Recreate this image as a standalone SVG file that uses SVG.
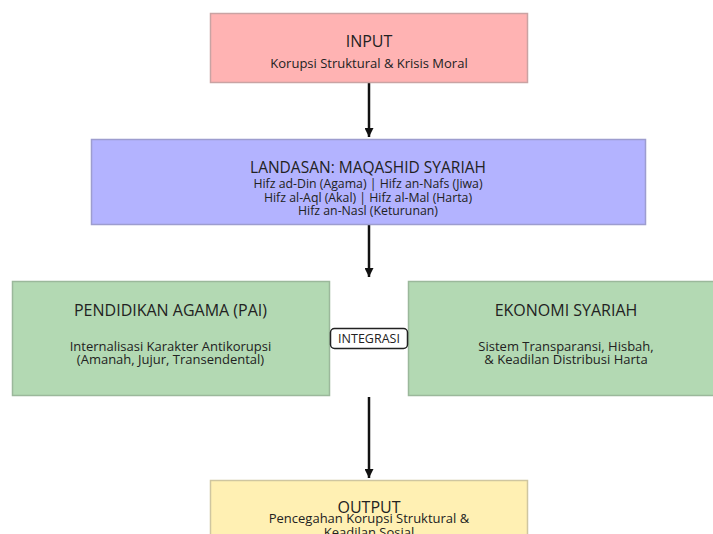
<svg xmlns="http://www.w3.org/2000/svg" width="713" height="534" viewBox="0 0 713 534">
<style>
  .box { stroke-width: 1.5; }
  .t { font-family: "Open Sans", Roboto, "Liberation Sans", sans-serif; fill: #222; text-anchor: middle; }
  .h { font-size: 16px; }
  .h2 { font-size: 15.5px; }
  .s { font-size: 13px; }
  .s2 { font-size: 12.3px; }
  .conn { stroke: #111; stroke-width: 2.5; fill: none; }
</style>
<defs>
  <marker id="ah" viewBox="0 0 10 10" refX="10" refY="5" markerWidth="3.6" markerHeight="3.6" orient="auto" markerUnits="strokeWidth">
    <path d="M0,0 L10,5 L0,10 z" fill="#111"/>
  </marker>
</defs>
<rect width="713" height="534" fill="#fff"/>

<g id="connectors">
  <line class="conn" x1="369" y1="83" x2="369" y2="137" marker-end="url(#ah)"/>
  <line class="conn" x1="369" y1="225" x2="369" y2="277" marker-end="url(#ah)"/>
  <line class="conn" x1="369" y1="397" x2="369" y2="478" marker-end="url(#ah)"/>
</g>

<g id="input">
  <rect class="box" x="210.5" y="13.5" width="317" height="69" fill="#ffb3b3" stroke="#c9a3a3"/>
  <text class="t h" x="369" y="47">INPUT</text>
  <text class="t s" x="369" y="68">Korupsi Struktural &amp; Krisis Moral</text>
</g>

<g id="landasan">
  <rect class="box" x="91.5" y="139.5" width="554" height="85" fill="#b3b3ff" stroke="#9d9dcf"/>
  <text class="t h2" x="368" y="172.5">LANDASAN: MAQASHID SYARIAH</text>
  <text class="t s2" x="368" y="187.5">Hifz ad-Din (Agama) | Hifz an-Nafs (Jiwa)</text>
  <text class="t s2" x="368" y="201.5">Hifz al-Aql (Akal) | Hifz al-Mal (Harta)</text>
  <text class="t s2" x="368" y="215">Hifz an-Nasl (Keturunan)</text>
</g>

<g id="pai">
  <rect class="box" x="12.5" y="281.5" width="317" height="114" fill="#b3d9b3" stroke="#9bb89b"/>
  <text class="t h" x="170.5" y="316">PENDIDIKAN AGAMA (PAI)</text>
  <text class="t s" x="170.5" y="351">Internalisasi Karakter Antikorupsi</text>
  <text class="t s" x="170.5" y="363.5">(Amanah, Jujur, Transendental)</text>
</g>

<g id="ekonomi">
  <rect class="box" x="408.5" y="281.5" width="317" height="114" fill="#b3d9b3" stroke="#9bb89b"/>
  <text class="t h" x="566" y="316">EKONOMI SYARIAH</text>
  <text class="t s" x="566" y="351">Sistem Transparansi, Hisbah,</text>
  <text class="t s" x="566" y="363.5">&amp; Keadilan Distribusi Harta</text>
</g>

<g id="integrasi">
  <rect x="330.5" y="328.5" width="77" height="20" rx="4" ry="4" fill="#fff" stroke="#222" stroke-width="1.5"/>
  <text class="t" x="369" y="343" font-size="12.5">INTEGRASI</text>
</g>

<g id="output">
  <rect class="box" x="210.5" y="480.5" width="317" height="70" fill="#fff0b3" stroke="#cfc6a0"/>
  <text class="t h" x="369" y="513">OUTPUT</text>
  <text class="t s" x="369" y="523">Pencegahan Korupsi Struktural &amp;</text>
  <text class="t s" x="369" y="537">Keadilan Sosial</text>
</g>
</svg>
